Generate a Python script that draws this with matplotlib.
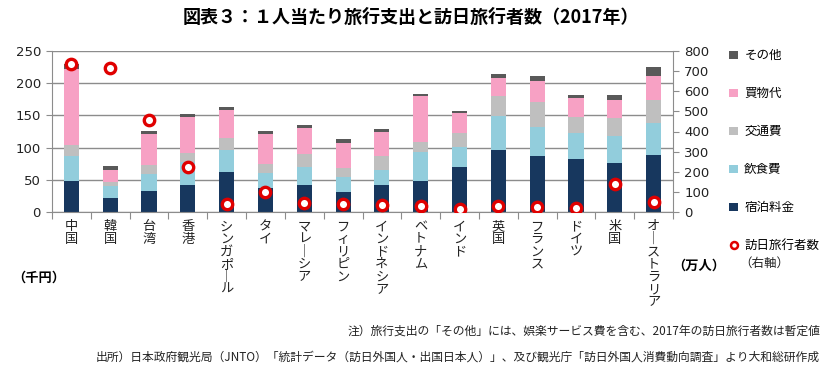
import numpy as np
import matplotlib
matplotlib.use("Agg")
from matplotlib import pyplot as plt
from matplotlib.lines import Line2D

plt.rcParams["font.family"] = ["Noto Sans CJK JP", "DejaVu Sans"]

# データ（千円、万人）
countries = ["中国", "韓国", "台湾", "香港", "シンガポール", "タイ", "マレーシア", "フィリピン",
             "インドネシア", "ベトナム", "インド", "英国", "フランス", "ドイツ", "米国", "オーストラリア"]
stay = [47.7, 21.3, 32.2, 41.5, 61.7, 37.3, 41.5, 30.6, 41.5, 47.7, 70.0, 96.5, 87.1, 82.0, 75.7, 88.2]
food = [38.9, 18.7, 27.4, 36.3, 34.3, 23.4, 28.5, 23.9, 23.3, 45.7, 31.0, 52.4, 45.2, 39.9, 42.0, 50.3]
transport = [17.1, 6.7, 13.0, 14.0, 19.0, 13.5, 19.7, 14.5, 21.8, 15.5, 22.0, 31.6, 38.9, 24.9, 27.5, 35.3]
shopping = [118.3, 19.2, 48.8, 56.0, 43.0, 47.2, 41.0, 38.4, 37.4, 71.1, 31.0, 28.0, 32.1, 30.1, 28.6, 37.2]
other = [7.8, 5.1, 4.1, 4.2, 4.9, 4.1, 4.2, 6.2, 4.6, 3.0, 3.2, 6.2, 7.8, 4.6, 7.7, 14.0]
visitors = [736, 714, 456, 223, 40, 99, 44, 42, 35, 31, 13, 31, 27, 20, 137, 50]

series_names = ["宿泊料金", "飲食費", "交通費", "買物代", "その他"]
colors = ["#17375E", "#92CDDC", "#BFBFBF", "#F7A1C4", "#595959"]

fig = plt.figure(figsize=(8.38, 3.76), dpi=100)
ax = fig.add_axes([52 / 838, 1 - 212 / 376, (673 - 52) / 838, (212 - 51) / 376])

x = np.arange(len(countries))
bottom = np.zeros(len(countries))
bars = []
for vals, name, c in zip([stay, food, transport, shopping, other], series_names, colors):
    b = ax.bar(x, vals, 0.39, bottom=bottom, color=c, label=name, zorder=2)
    bars.append(b)
    bottom += np.array(vals)

grid_c = "#8C8C8C"
ax.set_xlim(-0.5, len(countries) - 0.5)
ax.set_ylim(0, 250)
ax.set_yticks(np.arange(0, 251, 50))
ax.grid(axis="y", color=grid_c, lw=1, zorder=0)
for s in ["top", "right"]:
    ax.spines[s].set_visible(False)
for s in ["left", "bottom"]:
    ax.spines[s].set_color(grid_c)
ax.tick_params(axis="y", colors=grid_c, length=4, labelcolor="#222222", labelsize=9.5, pad=4)
for lab in ax.get_yticklabels():
    lab.set_family("DejaVu Sans")

# 区切りの目盛と縦書きのラベル
ax.set_xticks(np.arange(-0.5, len(countries), 1))
ax.set_xticklabels([])
ax.tick_params(axis="x", which="major", colors=grid_c, length=5)
ax.set_xticks(x, minor=True)
vert = ["\n".join(n.replace("ー", "｜")) for n in countries]
ax.set_xticklabels(vert, minor=True, fontsize=9.5, linespacing=0.95, color="#222222")
ax.tick_params(axis="x", which="minor", length=0, pad=6)

ax2 = ax.twinx()
ax2.set_ylim(0, 800)
ax2.set_yticks(np.arange(0, 801, 100))
for s in ["top", "left", "bottom"]:
    ax2.spines[s].set_visible(False)
ax2.spines["right"].set_color(grid_c)
ax2.tick_params(axis="y", colors=grid_c, length=4, labelcolor="#222222", labelsize=9.5, pad=4)
for lab in ax2.get_yticklabels():
    lab.set_family("DejaVu Sans")
ax2.plot(x, visitors, ls="none", marker="o", ms=7.5, mfc="white", mec="#E00000", mew=2.4, zorder=5)

# 凡例
handles = [bars[i] for i in range(4, -1, -1)]
labels = [series_names[i] for i in range(4, -1, -1)]
handles.append(Line2D([], [], ls="none", marker="o", ms=5, mfc="white", mec="#E00000", mew=1.8))
labels.append("訪日旅行者数")
fig.legend(handles, labels, loc="upper left", bbox_to_anchor=(723 / 838, 1 - 43 / 376),
           frameon=False, fontsize=9, handlelength=0.7, handleheight=0.7, handletextpad=0.5,
           labelspacing=2.0, borderpad=0)
fig.text(739 / 838, 1 - 263 / 376, "（右軸）", fontsize=9, va="center", ha="left", color="#222222")

fig.text(411 / 838, 1 - 17 / 376, "図表３：１人当たり旅行支出と訪日旅行者数（2017年）",
         fontsize=13, fontweight="bold", ha="center", va="center")
fig.text(12 / 838, 1 - 278 / 376, "（千円）", fontsize=9.5, fontweight="bold", ha="left", va="center")
fig.text(672 / 838, 1 - 266 / 376, "（万人）", fontsize=9.5, fontweight="bold", ha="left", va="center")

fig.text(820 / 838, 1 - 331 / 376, "注）旅行支出の「その他」には、娯楽サービス費を含む、2017年の訪日旅行者数は暫定値",
         fontsize=8.5, ha="right", va="center", color="#222222")
fig.text(820 / 838, 1 - 357 / 376,
         "出所）日本政府観光局（JNTO）「統計データ（訪日外国人・出国日本人）」、及び観光庁「訪日外国人消費動向調査」より大和総研作成",
         fontsize=8.5, ha="right", va="center", color="#222222")

fig.savefig("out.png", dpi=100)
